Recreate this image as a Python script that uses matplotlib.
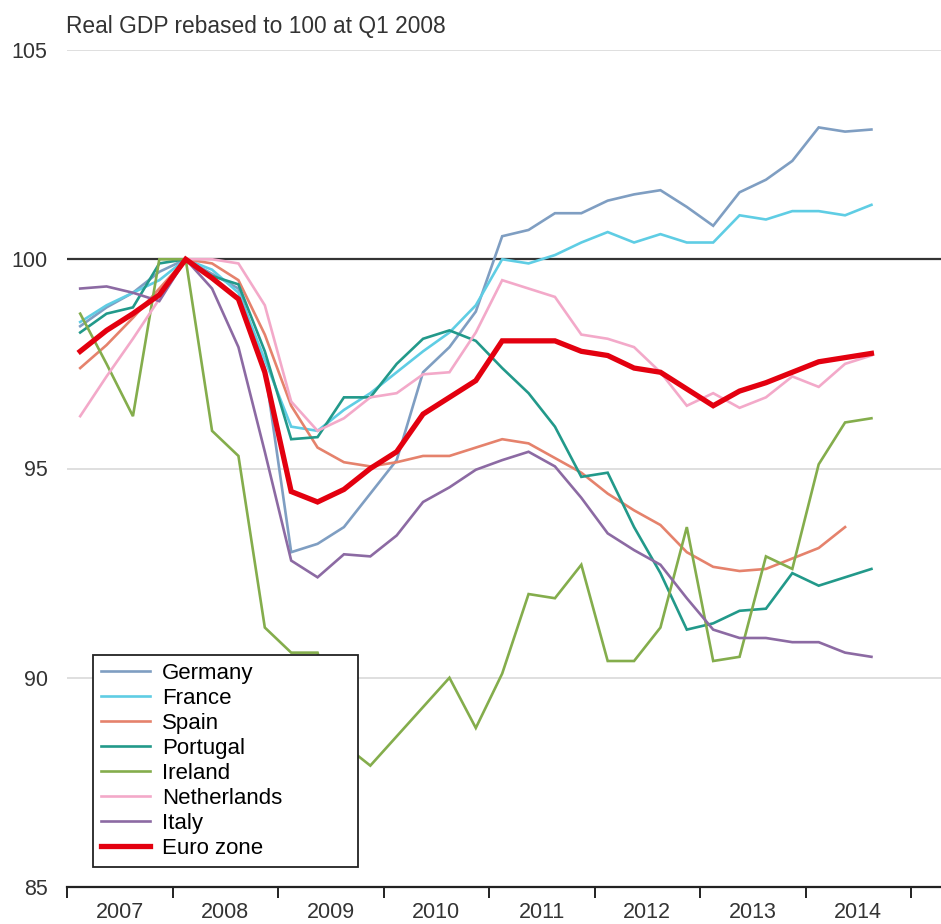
import matplotlib
matplotlib.use("Agg")
import matplotlib.pyplot as plt
import numpy as np
import pandas as pd

plt.rcParams["font.family"] = ["Liberation Sans", "DejaVu Sans"]

# Quarterly real GDP, rebased to 100 at Q1 2008
quarters = pd.period_range("2007Q1", "2014Q3", freq="Q")

germany = [98.4, 98.85, 99.2, 99.7, 100.0, 99.65, 99.3, 97.4, 93.0, 93.2, 93.6,
           94.4, 95.2, 97.3, 97.9, 98.75, 100.55, 100.7, 101.1, 101.1, 101.4,
           101.55, 101.65, 101.25, 100.8, 101.6, 101.9, 102.35, 103.15, 103.05, 103.1]
france = [98.5, 98.9, 99.2, 99.5, 100.0, 99.75, 99.2, 97.6, 96.0, 95.9, 96.4,
          96.8, 97.3, 97.8, 98.25, 98.9, 100.0, 99.9, 100.1, 100.4, 100.65,
          100.4, 100.6, 100.4, 100.4, 101.05, 100.95, 101.15, 101.15, 101.05, 101.3]
spain = [97.4, 97.95, 98.6, 99.3, 100.0, 99.9, 99.5, 98.2, 96.5, 95.5, 95.15,
         95.05, 95.15, 95.3, 95.3, 95.5, 95.7, 95.6, 95.25, 94.9, 94.4,
         94.0, 93.65, 93.0, 92.65, 92.55, 92.6, 92.85, 93.1, 93.6]
portugal = [98.25, 98.7, 98.85, 99.9, 100.0, 99.6, 99.4, 97.8, 95.7, 95.75, 96.7,
            96.7, 97.5, 98.1, 98.3, 98.05, 97.4, 96.8, 96.0, 94.8, 94.9,
            93.6, 92.5, 91.15, 91.3, 91.6, 91.65, 92.5, 92.2, 92.4, 92.6]
ireland = [98.7, 97.5, 96.25, 100.0, 100.0, 95.9, 95.3, 91.2, 90.6, 90.6, 88.4,
           87.9, 88.6, 89.3, 90.0, 88.8, 90.1, 92.0, 91.9, 92.7, 90.4,
           90.4, 91.2, 93.6, 90.4, 90.5, 92.9, 92.6, 95.1, 96.1, 96.2]
netherlands = [96.25, 97.2, 98.1, 99.05, 100.0, 100.0, 99.9, 98.9, 96.6, 95.9, 96.2,
               96.7, 96.8, 97.25, 97.3, 98.25, 99.5, 99.3, 99.1, 98.2, 98.1,
               97.9, 97.3, 96.5, 96.8, 96.45, 96.7, 97.2, 96.95, 97.5, 97.7]
italy = [99.3, 99.35, 99.2, 99.0, 100.0, 99.3, 97.9, 95.4, 92.8, 92.4, 92.95,
         92.9, 93.4, 94.2, 94.55, 94.97, 95.2, 95.4, 95.05, 94.3, 93.45,
         93.05, 92.7, 91.9, 91.15, 90.95, 90.95, 90.85, 90.85, 90.6, 90.5]
euro_zone = [97.8, 98.3, 98.7, 99.15, 100.0, 99.55, 99.05, 97.3, 94.45, 94.2, 94.5,
             95.0, 95.4, 96.3, 96.7, 97.1, 98.05, 98.05, 98.05, 97.8, 97.7,
             97.4, 97.3, 96.9, 96.5, 96.85, 97.05, 97.3, 97.55, 97.65, 97.75]

years = list(range(2007, 2015))
yticks = [85, 90, 95, 100, 105]

series = [
    ("Germany", germany, "#7f9ec2", 1.9),
    ("France", france, "#5fcde4", 1.9),
    ("Spain", spain, "#e5826c", 1.9),
    ("Portugal", portugal, "#22998a", 1.9),
    ("Ireland", ireland, "#84ad4c", 1.9),
    ("Netherlands", netherlands, "#f3a9c9", 1.9),
    ("Italy", italy, "#8c6aa3", 1.9),
    ("Euro zone", euro_zone, "#e3000f", 3.8),
]

# x position of each quarter: middle of the quarter within its year
x_all = np.array([q.year + (q.quarter - 0.5) / 4 for q in quarters])

fig = plt.figure(figsize=(9.41, 9.24), dpi=100)
ax = fig.add_axes([67 / 941, 1 - 887 / 924, 1 - 67 / 941, (887 - 50) / 924])

for name, vals, color, lw in series:
    ax.plot(x_all[:len(vals)], vals, color=color, lw=lw, label=name,
            solid_joinstyle="miter", zorder=3)

# grid lines and the black 100 line
for y in [90, 95, 105]:
    ax.axhline(y, color="#dcdcdc", lw=1.3, zorder=1)
ax.axhline(100, color="#333333", lw=1.6, zorder=2)

ax.set_ylim(85, 105)
ax.set_xlim(2007, 2007 + (941 - 67) / 105.5)

ax.set_yticks(yticks)
ax.set_yticklabels([str(v) for v in yticks])
ax.tick_params(axis="y", length=0, pad=14, labelsize=15.5, labelcolor="#333333")

# year boundaries as ticks, labels centred in each year
ax.set_xticks(years + [2015])
ax.set_xticklabels([])
ax.set_xticks([yr + 0.5 for yr in years], minor=True)
ax.set_xticklabels([str(yr) for yr in years], minor=True)
ax.tick_params(axis="x", which="major", direction="out", length=8, width=1.4, color="#222222")
ax.tick_params(axis="x", which="minor", length=0, pad=11, labelsize=15.5, labelcolor="#333333")

for side in ["top", "right", "left"]:
    ax.spines[side].set_visible(False)
ax.spines["bottom"].set_color("#222222")
ax.spines["bottom"].set_linewidth(1.6)

fig.text(66 / 941, 1 - 26 / 924, "Real GDP rebased to 100 at Q1 2008",
         fontsize=16.4, color="#333333", va="center", ha="left")

# legend box spanning x 93..358 px, bottom at 867 px
leg = ax.legend(loc="lower left",
                bbox_to_anchor=(93 / 941, 1 - 867 / 924, (358 - 93) / 941, 0.2),
                bbox_transform=fig.transFigure, mode="expand", fontsize=16,
                frameon=True, fancybox=False, framealpha=1, edgecolor="#222222",
                handlelength=2.2, handletextpad=0.55, labelspacing=0.18,
                borderpad=0.35, borderaxespad=0)
leg.get_frame().set_linewidth(1.3)
leg.set_zorder(5)

fig.savefig("out.png", dpi=100, facecolor="white")
